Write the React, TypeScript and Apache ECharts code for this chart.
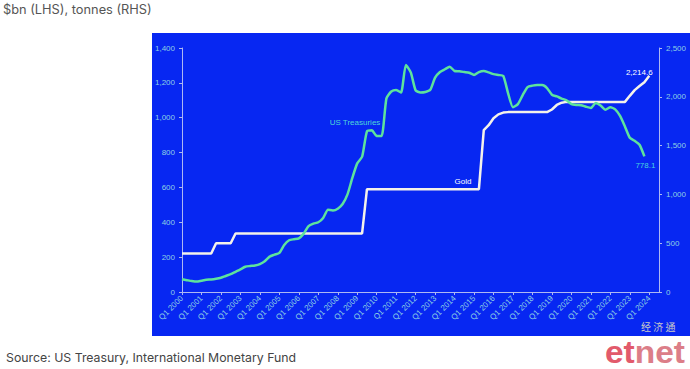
import React, { useEffect, useRef } from "react";
import * as echarts from "echarts";

const years: number[] = [2000, 2001, 2002, 2003, 2004, 2005, 2006, 2007, 2008, 2009, 2010, 2011, 2012, 2013, 2014, 2015, 2016, 2017, 2018, 2019, 2020, 2021, 2022, 2023, 2024];
const quarterNames: string[] = ["Q1", "Q2", "Q3", "Q4"];
// quarterly categories Q1 2000 .. Q1 2024, plus two empty trailing quarters
const categories: string[] = [];
years.forEach((y) => quarterNames.forEach((q) => categories.push(q + " " + y)));
categories.splice(99);

// US Treasuries holdings, $bn (LHS)
const treasuries: number[] = [
  73, 68, 63, 60, 65, 70, 72, 76, 82, 92,
  102, 116, 130, 145, 149, 152, 160, 176, 203, 214,
  224, 270, 297, 303, 308, 335, 378, 392, 400, 425,
  472, 468, 478, 505, 560, 655, 738, 776, 922, 928,
  895, 895, 1111, 1150, 1159, 1145, 1302, 1260, 1157, 1145,
  1148, 1160, 1230, 1262, 1278, 1293, 1268, 1266, 1262, 1258,
  1245, 1262, 1268, 1260, 1250, 1245, 1240, 1140, 1060, 1078,
  1130, 1176, 1184, 1187, 1187, 1170, 1132, 1122, 1110, 1100,
  1078, 1073, 1072, 1063, 1056, 1085, 1070, 1046, 1060, 1048,
  1010, 950, 885, 868, 845, 778.1,
];

// Gold reserves, tonnes (RHS)
const gold: number[] = [
  395, 395, 395, 395, 395, 395, 395, 500, 500, 500,
  500, 600, 600, 600, 600, 600, 600, 600, 600, 600,
  600, 600, 600, 600, 600, 600, 600, 600, 600, 600,
  600, 600, 600, 600, 600, 600, 600, 600, 1054, 1054,
  1054, 1054, 1054, 1054, 1054, 1054, 1054, 1054, 1054, 1054,
  1054, 1054, 1054, 1054, 1054, 1054, 1054, 1054, 1054, 1054,
  1054, 1054, 1658, 1709, 1780, 1820, 1838, 1843, 1843, 1843,
  1843, 1843, 1843, 1843, 1843, 1843, 1870, 1916, 1940, 1948,
  1948, 1948, 1948, 1948, 1948, 1948, 1948, 1948, 1948, 1948,
  1948, 1948, 2010, 2068, 2110, 2150, 2214.6,
];

const lhsTicks = { min: 0, max: 1400, interval: 200 };
const rhsTicks = { min: 0, max: 2500, interval: 500 };

const AXIS = "#AEB8F2";
const LABEL = "#8FD0E4";
const GREEN = "#5EE39C";
const GOLD = "#F4F2EA";
const FONT = "Liberation Sans";

const fmt = (v: number) => v.toLocaleString("en-US");

export default function App() {
  const ref = useRef<HTMLDivElement>(null);
  useEffect(() => {
    if (!ref.current) return;
    const chart = echarts.init(ref.current, undefined, { renderer: "svg" });
    const yAxisCommon = {
      type: "value",
      splitLine: { show: false },
      axisLine: { show: true, lineStyle: { color: AXIS, width: 1 } },
      axisTick: { show: true, length: 3, lineStyle: { color: AXIS } },
    };
    chart.setOption({
      animation: false,
      backgroundColor: "#ffffff",
      grid: { left: 182, right: 31, top: 48, bottom: 77 },
      xAxis: {
        type: "category",
        data: categories,
        boundaryGap: false,
        axisLine: { lineStyle: { color: AXIS, width: 1 } },
        axisTick: { interval: 3, length: 3, lineStyle: { color: AXIS } },
        axisLabel: {
          interval: 3,
          rotate: 45,
          color: LABEL,
          fontSize: 8,
          fontFamily: FONT,
          margin: 5,
        },
      },
      yAxis: [
        {
          ...yAxisCommon,
          position: "left",
          ...lhsTicks,
          axisLabel: { formatter: fmt, color: LABEL, fontSize: 8, fontFamily: FONT, margin: 7 },
        },
        {
          ...yAxisCommon,
          position: "right",
          ...rhsTicks,
          axisLabel: { formatter: fmt, color: LABEL, fontSize: 8, fontFamily: FONT, margin: 7 },
        },
      ],
      series: [
        {
          name: "Gold",
          type: "line",
          yAxisIndex: 1,
          data: gold,
          showSymbol: false,
          symbol: "none",
          lineStyle: { color: GOLD, width: 2.5 },
          endLabel: {
            show: true,
            formatter: (p: any) => fmt(p.value),
            color: "#FFFFFF",
            fontSize: 8,
            fontFamily: FONT,
            align: "center",
            verticalAlign: "middle",
            distance: 0,
            offset: [-10, -3],
          },
          z: 3,
        },
        {
          name: "US Treasuries",
          type: "line",
          yAxisIndex: 0,
          data: treasuries,
          showSymbol: false,
          symbol: "none",
          smooth: 0.2,
          lineStyle: { color: GREEN, width: 2.5 },
          endLabel: {
            show: true,
            formatter: (p: any) => fmt(p.value),
            color: "#48D2E0",
            fontSize: 8,
            fontFamily: FONT,
            align: "center",
            verticalAlign: "middle",
            distance: 0,
            offset: [1, 9],
          },
          z: 4,
        },
      ],
      graphic: [
        {
          type: "rect",
          z: -10,
          shape: { x: 152, y: 33, width: 538, height: 303 },
          style: { fill: "#0727F2" },
          silent: true,
        },
        {
          type: "text",
          x: 3,
          y: 3,
          style: { text: "$bn (LHS), tonnes (RHS)", fill: "#555555", fontSize: 12.8, fontFamily: "Inter" },
        },
        {
          type: "text",
          x: 6,
          y: 351,
          style: {
            text: "Source: US Treasury, International Monetary Fund",
            fill: "#444444",
            fontSize: 12.3,
            fontFamily: "Inter",
          },
        },
        {
          type: "text",
          x: 355,
          y: 122,
          style: {
            text: "US Treasuries",
            fill: "#4FD6D8",
            fontSize: 8,
            fontFamily: FONT,
            align: "center",
            verticalAlign: "middle",
          },
        },
        {
          type: "text",
          x: 463,
          y: 181,
          style: {
            text: "Gold",
            fill: "#FFFFFF",
            fontSize: 8,
            fontFamily: FONT,
            align: "center",
            verticalAlign: "middle",
          },
        },
        {
          type: "text",
          x: 641,
          y: 321,
          z: 10,
          style: {
            text: "经 济 通",
            fill: "#C8C8C8",
            fontSize: 10,
            lineHeight: 11,
            fontFamily: "Noto Sans CJK TC",
          },
        },
        {
          type: "text",
          x: 605,
          y: 338,
          z: 10,
          scaleX: 1.08,
          style: {
            text: "{a|et}{b|net}",
            rich: {
              a: { fill: "#E25A6B", fontSize: 31, lineHeight: 28, fontWeight: "bold", fontFamily: "Liberation Sans" },
              b: { fill: "#DC7E88", fontSize: 31, lineHeight: 28, fontWeight: "bold", fontFamily: "Liberation Sans" },
            },
          },
        },
      ],
    });
    return () => chart.dispose();
  }, []);
  return (
    <div
      ref={ref}
      style={{ position: "absolute", left: 0, top: 0, width: 690, height: 369 }}
    />
  );
}
